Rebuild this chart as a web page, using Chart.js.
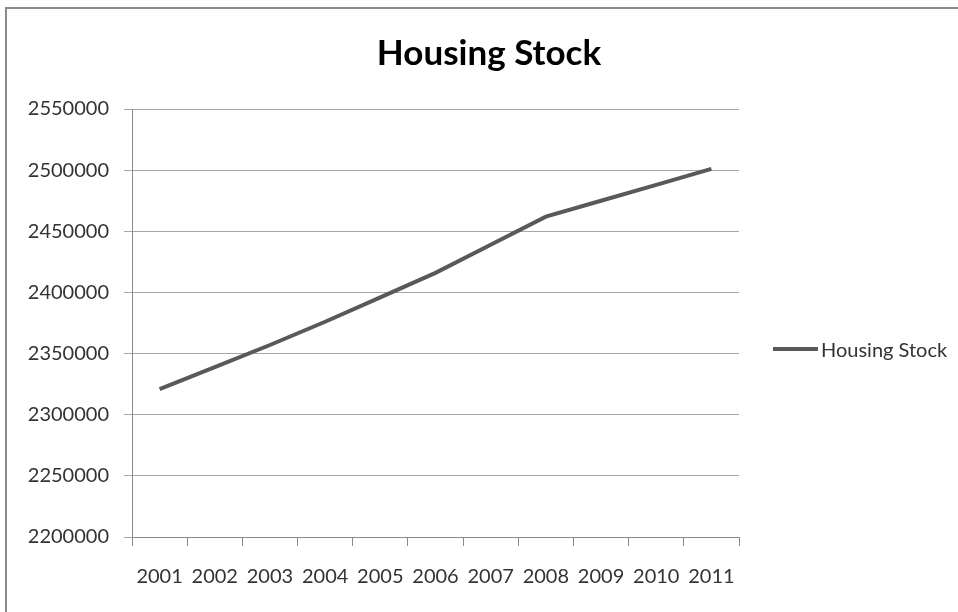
<!DOCTYPE html>
<html>
<head>
<meta charset="utf-8">
<title>Housing Stock</title>
<script src="https://cdn.jsdelivr.net/npm/chart.js@4"></script>
<style>
    body { margin: 0; background: #fff; }
    #wrap { position: relative; width: 958px; height: 612px; overflow: hidden; }
    #frame { position: absolute; left: 5px; top: 7px; width: 1000px; height: 700px; border: 2px solid #8a8a8a; box-sizing: border-box; }
    #chart-box { position: absolute; left: 0; top: 0; width: 958px; height: 612px; }
    #title { position: absolute; left: 0; top: 30px; width: 978px; text-align: center; font: bold 35px/42px Lato, sans-serif; color: #000; }
    #legend { position: absolute; left: 773px; top: 337px; display: flex; align-items: center; font: 20px Lato, sans-serif; color: #333; }
    #legend .swatch { width: 45px; height: 4px; background: #595959; margin-right: 3px; }
</style>
</head>
<body>
<div id="wrap">
    <div id="frame"></div>
    <div id="chart-box"><canvas id="housing-chart"></canvas></div>
    <div id="title"></div>
    <div id="legend"><span class="swatch"></span><span id="legend-label"></span></div>
</div>
<script>
// Chart data
const seriesName = 'Housing Stock';
const years = ['2001', '2002', '2003', '2004', '2005', '2006', '2007', '2008', '2009', '2010', '2011'];
const housingStock = [2321000, 2339000, 2357000, 2376000, 2396000, 2416000, 2439000, 2462000, 2475000, 2488000, 2501000];
const yMin = 2200000;
const yMax = 2550000;
const yStep = 50000;

const tickFont = { family: 'Lato', size: 20 };
const tickColor = '#333';

document.getElementById('title').textContent = seriesName;
document.getElementById('legend-label').textContent = seriesName;

new Chart(document.getElementById('housing-chart'), {
    type: 'line',
    data: {
        labels: years,
        datasets: [{
            label: seriesName,
            data: housingStock,
            borderColor: '#595959',
            borderWidth: 4,
            pointRadius: 0,
            tension: 0,
            fill: false
        }]
    },
    options: {
        responsive: true,
        maintainAspectRatio: false,
        animation: false,
        layout: {
            padding: { left: 0, right: 219, top: 109, bottom: 4 }
        },
        plugins: {
            legend: { display: false },
            tooltip: { enabled: false }
        },
        scales: {
            x: {
                offset: true,
                grid: {
                    offset: true,
                    drawOnChartArea: false,
                    tickLength: 9,
                    color: '#8a8a8a'
                },
                border: { color: '#8a8a8a' },
                ticks: {
                    font: tickFont,
                    color: tickColor,
                    padding: 19,
                    maxRotation: 0,
                    autoSkip: false
                }
            },
            y: {
                min: yMin,
                max: yMax,
                grid: {
                    color: '#a6a6a6',
                    tickLength: 8
                },
                border: { color: '#8a8a8a' },
                ticks: {
                    stepSize: yStep,
                    font: tickFont,
                    color: tickColor,
                    padding: 15,
                    callback: value => String(value)
                },
                afterFit(scale) {
                    scale.width = 132;
                }
            }
        }
    }
});
</script>
</body>
</html>
